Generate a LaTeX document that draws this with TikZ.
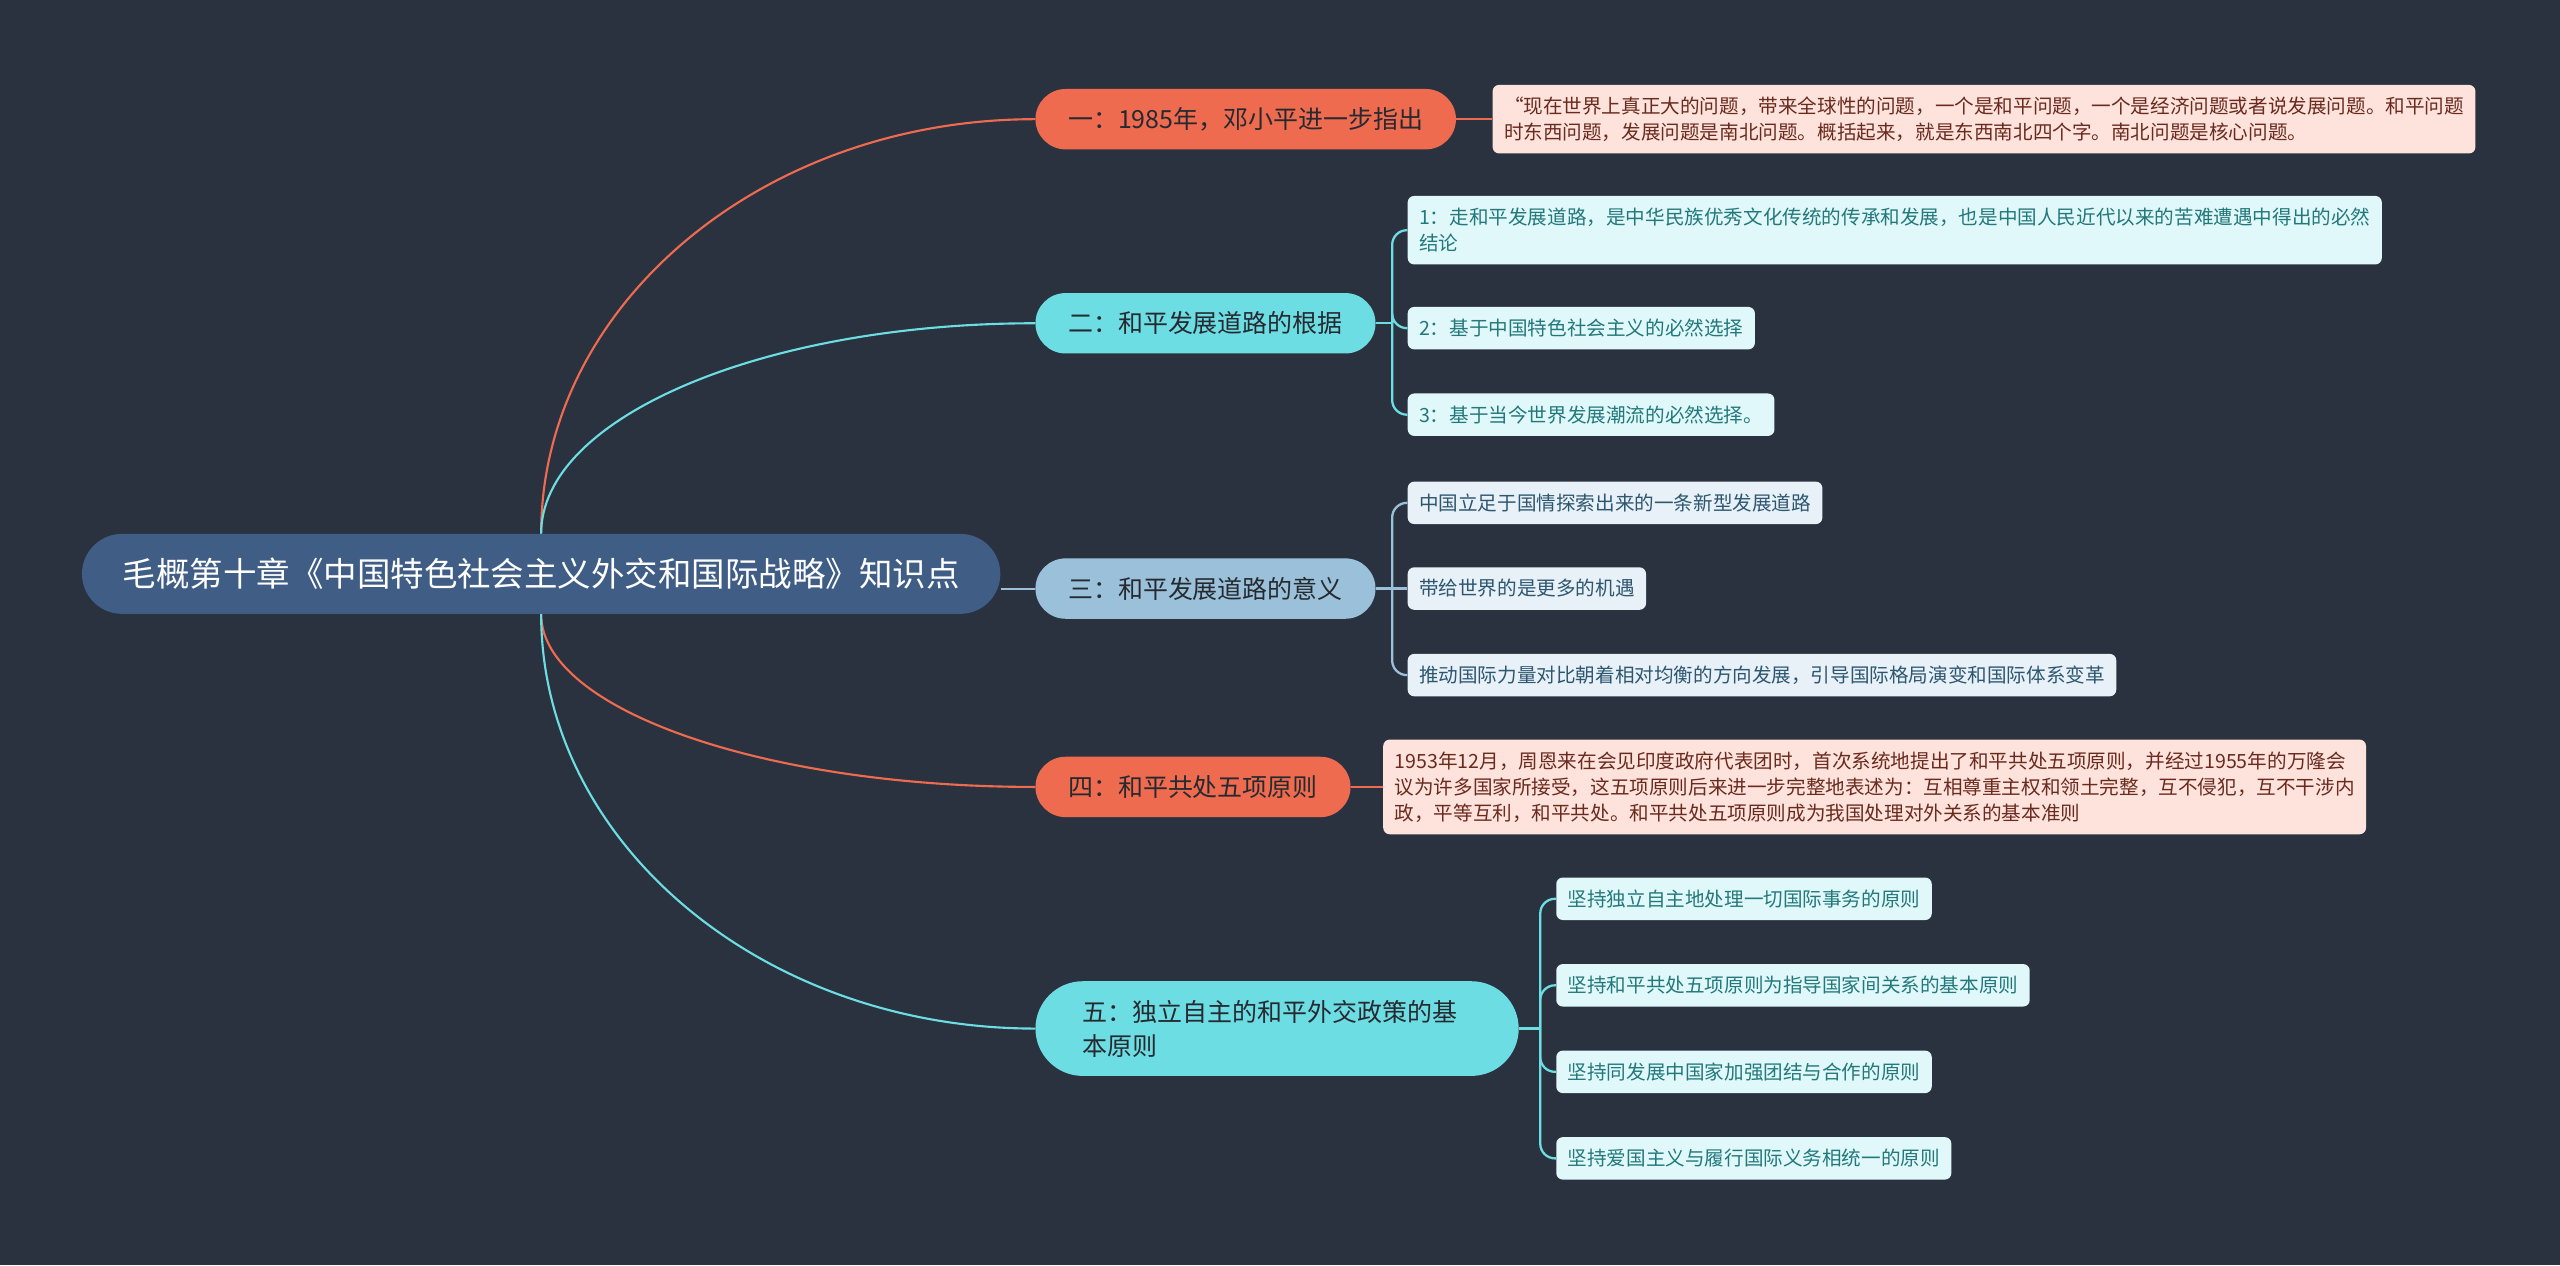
\documentclass[tikz,border=0pt]{standalone}
\usepackage{fontspec}
\setmainfont{Noto Sans CJK SC}
\definecolor{bgc}{HTML}{2A3240}
\definecolor{rootc}{HTML}{3F5D85}
\definecolor{orangec}{HTML}{EE6B4F}
\definecolor{cyanc}{HTML}{6CDDE3}
\definecolor{bluec}{HTML}{9BC1DA}
\definecolor{topicfg}{HTML}{262A30}
\definecolor{pinkbg}{HTML}{FDE3DC}
\definecolor{pinkfg}{HTML}{6B2A1E}
\definecolor{cyanbg}{HTML}{E0F8F9}
\definecolor{cyanfg}{HTML}{23787C}
\definecolor{bluebg}{HTML}{E8F1F7}
\definecolor{bluefg}{HTML}{2D5670}
\begin{document}
\begin{tikzpicture}[x=1pt,y=-1pt,
        mainbox/.style={anchor=west, fill=rootc, text=white, rounded corners=24.5pt, minimum height=49pt, inner xsep=25pt, font=\fontsize{20.5}{26}\selectfont},
        topicbox/.style={anchor=west, rounded corners=18.5pt, minimum height=37pt, inner xsep=20pt, inner ysep=0pt, text=topicfg, font=\fontsize{15.3}{21}\selectfont},
        notebox/.style={anchor=west, rounded corners=4pt, minimum height=26pt, inner xsep=7pt, inner ysep=3pt, align=left, font=\fontsize{12}{16}\selectfont},
        pinknote/.style={notebox, fill=pinkbg, text=pinkfg},
        cyannote/.style={notebox, fill=cyanbg, text=cyanfg},
        bluenote/.style={notebox, fill=bluebg, text=bluefg},
        link/.style={line width=1.3pt},
        sublink/.style={line width=1.4pt, rounded corners=9pt}]
        \fill[bgc] (0,0) rectangle (1568,775);
        \useasboundingbox (0,0) rectangle (1568,775);

        \node (root) [mainbox] at (50,351.5) {毛概第十章《中国特色社会主义外交和国际战略》知识点};

        \node (b1) [topicbox, fill=orangec] at (634,73) {一：1985年，邓小平进一步指出};
        \node (b2) [topicbox, fill=cyanc] at (634,198) {二：和平发展道路的根据};
        \node (b3) [topicbox, fill=bluec] at (634,360.5) {三：和平发展道路的意义};
        \node (b4) [topicbox, fill=orangec] at (634,482) {四：和平共处五项原则};
        \node (b5) [topicbox, fill=cyanc, rounded corners=29pt, minimum height=58pt, inner xsep=29pt, text width=238pt, align=left] at (634,630) {五：独立自主的和平外交政策的基\\本原则};

        \node (l1a) [pinknote, minimum height=42pt] at (914,73) {“现在世界上真正大的问题，带来全球性的问题，一个是和平问题，一个是经济问题或者说发展问题。和平问题\\时东西问题，发展问题是南北问题。概括起来，就是东西南北四个字。南北问题是核心问题。};

        \node (l2a) [cyannote, minimum height=42pt] at (862,141) {1：走和平发展道路，是中华民族优秀文化传统的传承和发展，也是中国人民近代以来的苦难遭遇中得出的必然\\结论};
        \node (l2b) [cyannote] at (862,201) {2：基于中国特色社会主义的必然选择};
        \node (l2c) [cyannote] at (862,254) {3：基于当今世界发展潮流的必然选择。};

        \node (l3a) [bluenote] at (862,308) {中国立足于国情探索出来的一条新型发展道路};
        \node (l3b) [bluenote] at (862,360.5) {带给世界的是更多的机遇};
        \node (l3c) [bluenote] at (862,413.5) {推动国际力量对比朝着相对均衡的方向发展，引导国际格局演变和国际体系变革};

        \node (l4a) [pinknote, minimum height=58pt] at (847,482) {1953年12月，周恩来在会见印度政府代表团时，首次系统地提出了和平共处五项原则，并经过1955年的万隆会\\议为许多国家所接受，这五项原则后来进一步完整地表述为：互相尊重主权和领土完整，互不侵犯，互不干涉内\\政，平等互利，和平共处。和平共处五项原则成为我国处理对外关系的基本准则};

        \node (l5a) [cyannote] at (953,550.5) {坚持独立自主地处理一切国际事务的原则};
        \node (l5b) [cyannote] at (953,603.5) {坚持和平共处五项原则为指导国家间关系的基本原则};
        \node (l5c) [cyannote] at (953,656.5) {坚持同发展中国家加强团结与合作的原则};
        \node (l5d) [cyannote] at (953,709.5) {坚持爱国主义与履行国际义务相统一的原则};

        \draw[link, orangec] (root.north) .. controls +(0,-140) and +(-167,0) .. (b1.west);
        \draw[link, cyanc] (root.north) .. controls +(0,-71) and +(-167,0) .. (b2.west);
        \draw[link, bluec] (b3.west -| root.east) -- (b3.west);
        \draw[link, orangec] (root.south) .. controls +(0,58) and +(-167,0) .. (b4.west);
        \draw[link, cyanc] (root.south) .. controls +(0,140) and +(-167,0) .. (b5.west);

        \draw[sublink, orangec] (b1.east) -- (l1a.west);
        \draw[sublink, orangec] (b4.east) -- (l4a.west);

        \path (b2.east) ++(10,0) coordinate (k2);
        \draw[sublink, cyanc] (b2.east) -- (k2);
        \draw[sublink, cyanc] (k2) |- (l2a.west);
        \draw[sublink, cyanc] (k2) |- (l2b.west);
        \draw[sublink, cyanc] (k2) |- (l2c.west);

        \path (b3.east) ++(10,0) coordinate (k3);
        \draw[sublink, bluec] (b3.east) -- (l3b.west);
        \draw[sublink, bluec] (k3) |- (l3a.west);
        \draw[sublink, bluec] (k3) |- (l3c.west);

        \path (b5.east) ++(13,0) coordinate (k5);
        \draw[sublink, cyanc] (b5.east) -- (k5);
        \draw[sublink, cyanc] (k5) |- (l5a.west);
        \draw[sublink, cyanc] (k5) |- (l5b.west);
        \draw[sublink, cyanc] (k5) |- (l5c.west);
        \draw[sublink, cyanc] (k5) |- (l5d.west);
    \end{tikzpicture}
\end{document}
